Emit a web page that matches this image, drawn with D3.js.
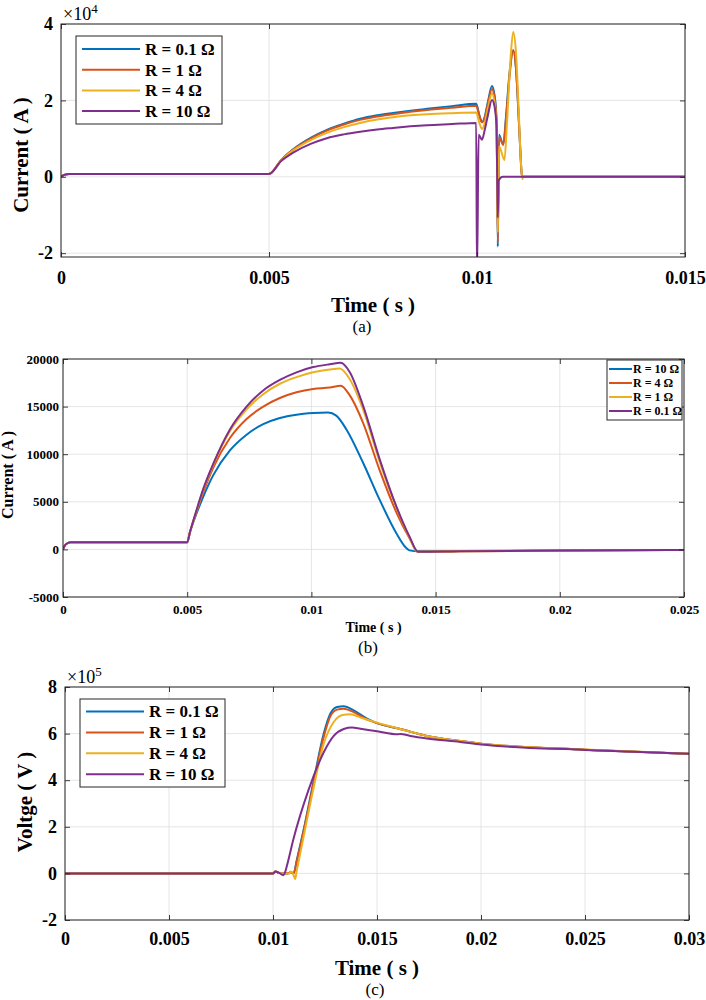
<!DOCTYPE html>
<html>
<head>
<meta charset="utf-8">
<script src="https://cdn.jsdelivr.net/npm/d3@7"></script>
<style>
  body { margin: 0; background: #fff; }
  svg { display: block; }
  text { font-family: "Liberation Serif", "Times New Roman", serif; fill: #000; }
</style>
</head>
<body>
<svg width="706" height="1000"></svg>
<script>
// MATLAB default line colours
var colors = ['#0072BD', '#D95319', '#EDB120', '#7E2F8E'];

// ---- Panel (a): current, in units of 1e4 A ----
var namesA = ['R = 0.1 \u03A9', 'R = 1 \u03A9', 'R = 4 \u03A9', 'R = 10 \u03A9'];
var xTicksA = [0, 0.005, 0.01, 0.015];
var yTicksA = [-2, 0, 2, 4];
var curA_01 = [[0, 0], [0.00008, 0.05], [0.0002, 0.075], [0.005, 0.075], [0.0053, 0.45], [0.00558, 0.72], [0.006, 1.02],
  [0.00639, 1.23], [0.0068, 1.39], [0.00719, 1.52], [0.0076, 1.61], [0.00798, 1.67], [0.0084, 1.73], [0.0088, 1.78],
  [0.0094, 1.85], [0.00998, 1.91], [0.01006, 1.6], [0.01012, 1.43], [0.01018, 1.55], [0.01026, 1.95], [0.01036, 2.38],
  [0.01042, 2.15], [0.01047, 1.5], [0.0105, -1.83], [0.01053, 1.1], [0.01063, 0.84], [0.0107, 1.6], [0.01078, 2.7],
  [0.01087, 3.3], [0.01094, 2.8], [0.011, 1.6], [0.01105, 0.5], [0.01108, 0], [0.015, 0]];
var curA_1 = [[0, 0], [0.00008, 0.05], [0.0002, 0.075], [0.005, 0.075], [0.0053, 0.45], [0.00558, 0.71], [0.006, 1.0],
  [0.00639, 1.21], [0.0068, 1.37], [0.00719, 1.49], [0.0076, 1.58], [0.00798, 1.64], [0.0084, 1.7], [0.0088, 1.75],
  [0.0094, 1.81], [0.00998, 1.86], [0.01006, 1.58], [0.01012, 1.43], [0.01018, 1.52], [0.01026, 1.9], [0.01036, 2.3],
  [0.01042, 2.08], [0.01047, 1.45], [0.0105, -1.72], [0.01053, 1.05], [0.01063, 0.84], [0.0107, 1.55], [0.01078, 2.6],
  [0.01087, 3.32], [0.01094, 2.8], [0.011, 1.6], [0.01105, 0.5], [0.01108, 0], [0.015, 0]];
var curA_4 = [[0, 0], [0.00008, 0.05], [0.0002, 0.075], [0.005, 0.075], [0.0053, 0.44], [0.00558, 0.69], [0.006, 0.96],
  [0.00639, 1.15], [0.0068, 1.3], [0.00719, 1.41], [0.0076, 1.5], [0.00798, 1.56], [0.0084, 1.61], [0.0088, 1.64],
  [0.0094, 1.665], [0.00998, 1.68], [0.01006, 1.4], [0.01012, 1.25], [0.01018, 1.38], [0.01026, 1.78], [0.01036, 2.18],
  [0.01042, 1.95], [0.01047, 1.35], [0.0105, -1.46], [0.01053, 0.8], [0.01066, 0.44], [0.01072, 1.4], [0.0108, 3.0],
  [0.01087, 3.79], [0.01094, 3.2], [0.011, 1.8], [0.01105, 0.5], [0.01109, -0.06], [0.01111, 0], [0.015, 0]];
var curA_10 = [[0, 0], [0.00008, 0.05], [0.0002, 0.075], [0.005, 0.075], [0.0053, 0.42], [0.00558, 0.63], [0.006, 0.86],
  [0.00639, 1.01], [0.0068, 1.11], [0.00719, 1.18], [0.0076, 1.24], [0.00798, 1.28], [0.0084, 1.32], [0.0088, 1.35],
  [0.0094, 1.38], [0.00998, 1.41], [0.01, -2.6], [0.01004, 1.1], [0.01012, 0.97], [0.01018, 1.2], [0.01026, 1.6],
  [0.01036, 2.01], [0.01042, 1.85], [0.01047, 1.3], [0.0105, -1.07], [0.01052, -0.1], [0.01062, 0], [0.015, 0]];

// ---- Panel (b): current, A ----
var namesB = ['R = 10 \u03A9', 'R = 4 \u03A9', 'R = 1 \u03A9', 'R = 0.1 \u03A9'];
var xTicksB = [0, 0.005, 0.01, 0.015, 0.02, 0.025];
var yTicksB = [-5000, 0, 5000, 10000, 15000, 20000];
var curB_10 = [[0, 0], [0.0001, 500], [0.0003, 750], [0.005, 750], [0.00511, 1800], [0.00538, 3800], [0.00564, 5500],
  [0.00605, 7800], [0.00672, 10400], [0.00739, 12050], [0.00806, 13150], [0.00873, 13800], [0.0094, 14150],
  [0.01007, 14320], [0.01067, 14380], [0.011, 14050], [0.01141, 12600], [0.01208, 9100], [0.01275, 5200],
  [0.01342, 1700], [0.0138, 200], [0.01395, -100], [0.0143, -200], [0.016, -180], [0.02, -110], [0.025, -60]];
var curB_4 = [[0, 0], [0.0001, 500], [0.0003, 750], [0.005, 750], [0.00511, 1800], [0.00538, 4000], [0.00564, 5950],
  [0.00605, 8600], [0.00672, 11700], [0.00739, 13700], [0.00806, 15000], [0.00873, 15900], [0.0094, 16500],
  [0.01007, 16850], [0.01074, 17000], [0.01118, 17200], [0.01154, 16200], [0.01208, 13300], [0.01275, 8300],
  [0.01342, 3900], [0.01395, 1170], [0.01429, -250], [0.016, -200], [0.02, -120], [0.025, -60]];
var curB_1 = [[0, 0], [0.0001, 500], [0.0003, 750], [0.005, 750], [0.00511, 1800], [0.00538, 4100], [0.00564, 6200],
  [0.00605, 8900], [0.00672, 12400], [0.00739, 14700], [0.00806, 16300], [0.00873, 17400], [0.0094, 18100],
  [0.01007, 18600], [0.01074, 18900], [0.01114, 19000], [0.01154, 17900], [0.01208, 14700], [0.01275, 9200],
  [0.01342, 4400], [0.01395, 1270], [0.01427, -250], [0.016, -200], [0.02, -120], [0.025, -60]];
var curB_01 = [[0, 0], [0.0001, 500], [0.0003, 750], [0.005, 750], [0.00511, 1800], [0.00538, 4170], [0.00564, 6300],
  [0.00605, 9000], [0.00672, 12600], [0.00739, 15000], [0.00806, 16700], [0.00873, 17800], [0.0094, 18600],
  [0.01007, 19150], [0.01074, 19450], [0.01118, 19600], [0.01154, 18640], [0.01208, 15100], [0.01275, 9460],
  [0.01342, 4520], [0.01395, 1340], [0.01429, -250], [0.016, -200], [0.02, -120], [0.025, -60]];

// ---- Panel (c): voltage, in units of 1e5 V ----
var namesC = ['R = 0.1 \u03A9', 'R = 1 \u03A9', 'R = 4 \u03A9', 'R = 10 \u03A9'];
var xTicksC = [0, 0.005, 0.01, 0.015, 0.02, 0.025, 0.03];
var yTicksC = [-2, 0, 2, 4, 6, 8];
var volC_01 = [[0, 0], [0.01, 0], [0.01012, 0.08], [0.0103, 0.02], [0.0105, 0], [0.0107, 0], [0.01085, 0.05],
  [0.01099, 0], [0.01115, 0.6], [0.01147, 1.86], [0.01196, 4.0], [0.01244, 6.0], [0.01276, 6.86], [0.01308, 7.14],
  [0.0134, 7.17], [0.01388, 7.0], [0.01452, 6.64], [0.015, 6.45], [0.01612, 6.2], [0.0174, 5.9], [0.019, 5.68],
  [0.02, 5.57], [0.025, 5.31], [0.03, 5.14]];
var volC_1 = [[0, 0], [0.01, 0], [0.01012, 0.08], [0.0103, 0.02], [0.0105, 0], [0.0107, 0], [0.01085, 0.05],
  [0.01099, 0], [0.01115, 0.55], [0.01147, 1.8], [0.01196, 3.9], [0.01244, 5.86], [0.01276, 6.75], [0.01308, 7.03],
  [0.0134, 7.07], [0.01388, 6.92], [0.01452, 6.6], [0.015, 6.45], [0.01612, 6.2], [0.0174, 5.9], [0.019, 5.68],
  [0.02, 5.57], [0.025, 5.31], [0.03, 5.14]];
var volC_4 = [[0, 0], [0.01, 0], [0.01012, 0.08], [0.0103, 0.02], [0.0105, 0], [0.0108, 0], [0.01085, 0.08],
  [0.01095, 0], [0.011, -0.1], [0.01107, -0.24], [0.01112, 0], [0.01147, 1.57], [0.01196, 3.71], [0.01244, 5.57],
  [0.01292, 6.5], [0.0134, 6.81], [0.01372, 6.83], [0.0142, 6.69], [0.015, 6.47], [0.01612, 6.2], [0.0174, 5.9],
  [0.019, 5.68], [0.02, 5.57], [0.025, 5.32], [0.03, 5.14]];
var volC_10 = [[0, 0], [0.01, 0], [0.01012, 0.08], [0.0103, 0.02], [0.0105, -0.08], [0.01058, 0.05], [0.01066, 0.3],
  [0.01099, 1.5], [0.01147, 2.95], [0.01196, 4.2], [0.01244, 5.2], [0.01292, 5.9], [0.0134, 6.2], [0.0138, 6.26],
  [0.0142, 6.21], [0.015, 6.1], [0.016, 5.97], [0.01612, 5.985], [0.0166, 5.9], [0.0174, 5.79], [0.019, 5.64],
  [0.02, 5.53], [0.025, 5.3], [0.03, 5.13]];

var svg = d3.select('svg');
var axisColor = '#262626';
var gridColor = '#dedede';

function drawPanel(p) {
  var x = d3.scaleLinear().domain(p.xDomain).range([p.left, p.right]);
  var y = d3.scaleLinear().domain(p.yDomain).range([p.bottom, p.top]);
  var g = svg.append('g');

  // clip so spikes stay inside the box
  g.append('clipPath').attr('id', p.id + '-clip')
    .append('rect')
    .attr('x', p.left).attr('y', p.top)
    .attr('width', p.right - p.left).attr('height', p.bottom - p.top);

  // grid
  g.selectAll('.gx').data(p.xTicks).enter().append('line')
    .attr('x1', d => x(d)).attr('x2', d => x(d))
    .attr('y1', p.top).attr('y2', p.bottom)
    .attr('stroke', gridColor).attr('stroke-width', 0.8);
  g.selectAll('.gy').data(p.yTicks).enter().append('line')
    .attr('x1', p.left).attr('x2', p.right)
    .attr('y1', d => y(d)).attr('y2', d => y(d))
    .attr('stroke', gridColor).attr('stroke-width', 0.8);

  // data lines
  var line = d3.line()
    .x(d => x(d[0]))
    .y(d => y(d[1]))
    .curve(d3.curveMonotoneX);
  g.append('g').attr('clip-path', 'url(#' + p.id + '-clip)')
    .selectAll('path').data(p.series).enter().append('path')
    .attr('d', d => line(d))
    .attr('fill', 'none')
    .attr('stroke', (d, i) => p.colors[i])
    .attr('stroke-width', p.lineWidth)
    .attr('stroke-linejoin', 'round');

  // axes: ticks inside on all four sides
  var bottom = g.append('g').attr('transform', 'translate(0,' + p.bottom + ')')
    .call(d3.axisBottom(x).tickValues(p.xTicks).tickFormat(String)
      .tickSizeInner(-5).tickSizeOuter(0).tickPadding(p.xPad));
  var left = g.append('g').attr('transform', 'translate(' + p.left + ',0)')
    .call(d3.axisLeft(y).tickValues(p.yTicks).tickFormat(String)
      .tickSizeInner(-5).tickSizeOuter(0).tickPadding(p.yPad));
  var top = g.append('g').attr('transform', 'translate(0,' + p.top + ')')
    .call(d3.axisTop(x).tickValues(p.xTicks).tickFormat('')
      .tickSizeInner(-5).tickSizeOuter(0));
  var right = g.append('g').attr('transform', 'translate(' + p.right + ',0)')
    .call(d3.axisRight(y).tickValues(p.yTicks).tickFormat('')
      .tickSizeInner(-5).tickSizeOuter(0));
  [bottom, left, top, right].forEach(function (a) {
    a.select('.domain').remove();
    a.selectAll('line').attr('stroke', axisColor).attr('stroke-width', 0.9);
    a.selectAll('text')
      .attr('font-family', '"Liberation Serif", serif')
      .attr('font-weight', 'bold')
      .attr('font-size', p.tickFont)
      .attr('fill', '#000');
  });

  g.append('rect')
    .attr('x', p.left).attr('y', p.top)
    .attr('width', p.right - p.left).attr('height', p.bottom - p.top)
    .attr('fill', 'none').attr('stroke', axisColor).attr('stroke-width', 1);

  // exponent label (x10^n)
  if (p.exponent) {
    var ex = g.append('text')
      .attr('x', p.left + 2).attr('y', p.top - 4)
      .attr('font-size', 18);
    ex.append('tspan').text('\u00D710');
    ex.append('tspan').attr('dy', -7).attr('font-size', 13).text(p.exponent);
  }

  // axis titles
  g.append('text')
    .attr('x', (p.left + p.right) / 2).attr('y', p.xLabelY)
    .attr('text-anchor', 'middle')
    .attr('font-weight', 'bold').attr('font-size', p.labelFont)
    .text(p.xLabel);
  g.append('text')
    .attr('transform', 'translate(' + p.yLabelX + ',' + p.yLabelY + ') rotate(-90)')
    .attr('text-anchor', 'middle')
    .attr('font-weight', 'bold').attr('font-size', p.yLabelFont)
    .text(p.yLabel);

  // caption
  g.append('text')
    .attr('x', p.capX).attr('y', p.capY)
    .attr('text-anchor', 'middle')
    .attr('font-size', 17)
    .text(p.caption);

  // legend
  var L = p.legend;
  var lg = g.append('g');
  lg.append('rect')
    .attr('x', L.x).attr('y', L.y).attr('width', L.w).attr('height', L.h)
    .attr('fill', '#fff').attr('stroke', axisColor).attr('stroke-width', 1);
  p.names.forEach(function (name, i) {
    var ry = L.y + L.first + i * L.step;
    lg.append('line')
      .attr('x1', L.x + L.lx0).attr('x2', L.x + L.lx1)
      .attr('y1', ry).attr('y2', ry)
      .attr('stroke', p.colors[i]).attr('stroke-width', p.lineWidth);
    lg.append('text')
      .attr('x', L.x + L.tx).attr('y', ry).attr('dy', '0.35em')
      .attr('font-weight', 'bold').attr('font-size', L.font)
      .text(name);
  });
}

drawPanel({
  id: 'a', left: 61, right: 685, top: 24, bottom: 257,
  xDomain: [0, 0.015], yDomain: [-2.1, 4], xTicks: xTicksA, yTicks: yTicksA,
  series: [curA_01, curA_1, curA_4, curA_10], names: namesA, colors: colors,
  lineWidth: 2, tickFont: 18, xPad: 14, yPad: 8,
  exponent: '4',
  xLabel: 'Time ( s )', xLabelY: 312, labelFont: 21,
  yLabel: 'Current ( A )', yLabelX: 28, yLabelY: 155, yLabelFont: 21,
  caption: '(a)', capX: 362, capY: 332,
  legend: { x: 76, y: 36, w: 146, h: 88, first: 13, step: 20.7, lx0: 6, lx1: 64, tx: 69, font: 17 }
});

drawPanel({
  id: 'b', left: 63, right: 684, top: 359, bottom: 597,
  xDomain: [0, 0.025], yDomain: [-5000, 20000], xTicks: xTicksB, yTicks: yTicksB,
  series: [curB_10, curB_4, curB_1, curB_01], names: namesB, colors: colors,
  lineWidth: 2, tickFont: 13, xPad: 8, yPad: 4,
  xLabel: 'Time ( s )', xLabelY: 632, labelFont: 14,
  yLabel: 'Current ( A )', yLabelX: 13, yLabelY: 475, yLabelFont: 16,
  caption: '(b)', capX: 368, capY: 653,
  legend: { x: 607, y: 360, w: 75, h: 60, first: 9, step: 14, lx0: 2, lx1: 25, tx: 26, font: 12 }
});

drawPanel({
  id: 'c', left: 65, right: 689, top: 687, bottom: 920,
  xDomain: [0, 0.03], yDomain: [-2, 8], xTicks: xTicksC, yTicks: yTicksC,
  series: [volC_01, volC_1, volC_4, volC_10], names: namesC, colors: colors,
  lineWidth: 2, tickFont: 18, xPad: 12, yPad: 8,
  exponent: '5',
  xLabel: 'Time ( s )', xLabelY: 975, labelFont: 21,
  yLabel: 'Voltge ( V )', yLabelX: 32, yLabelY: 802, yLabelFont: 21,
  caption: '(c)', capX: 375, capY: 995,
  legend: { x: 80, y: 699, w: 145, h: 88, first: 12.5, step: 20.9, lx0: 6, lx1: 64, tx: 69, font: 17 }
});
</script>
</body>
</html>
